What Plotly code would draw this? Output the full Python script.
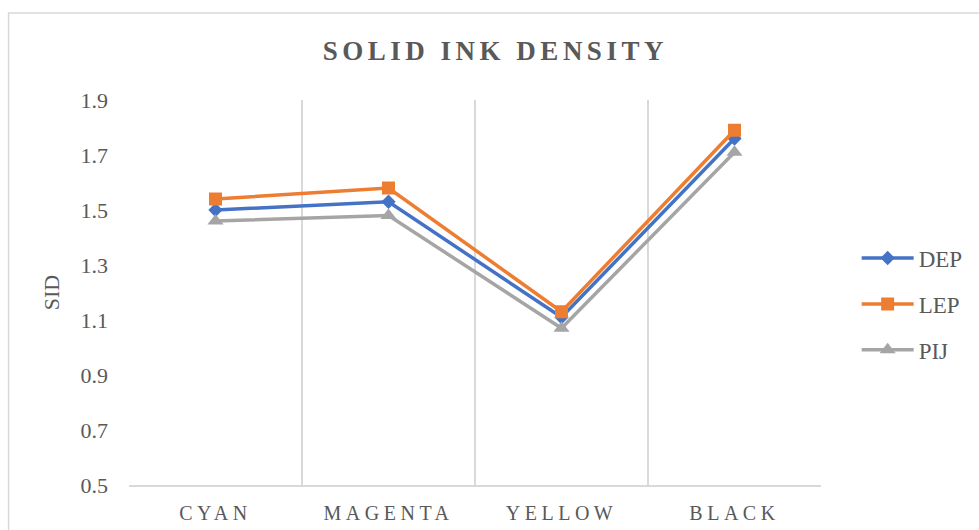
import plotly.graph_objects as go

categories = ["CYAN", "MAGENTA", "YELLOW", "BLACK"]
dep = [1.50, 1.53, 1.11, 1.76]
lep = [1.54, 1.58, 1.13, 1.79]
pij = [1.46, 1.48, 1.07, 1.71]
y_ticks = [0.5, 0.7, 0.9, 1.1, 1.3, 1.5, 1.7, 1.9]

FONT = "Liberation Serif, Times New Roman, serif"
GREY = "#595959"

fig = go.Figure()
series = [
    ("DEP", dep, "#4472C4", "diamond", 11),
    ("LEP", lep, "#ED7D31", "square", 13),
    ("PIJ", pij, "#A5A5A5", "triangle-up", 14),
]
for name, vals, col, sym, sz in series:
    fig.add_trace(go.Scatter(
        x=categories, y=vals, name=name, mode="lines+markers",
        legendgroup=name,
        line=dict(color=col, width=3.5),
        marker=dict(symbol=sym, size=sz, color=col),
    ))

fig.update_layout(
    width=979, height=530,
    margin=dict(l=129, r=157, t=100, b=45),
    paper_bgcolor="white", plot_bgcolor="white",
    title=dict(text="<b>SOLID INK DENSITY</b>", x=0.506, xanchor="center",
               y=0.905, yanchor="middle",
               font=dict(family=FONT, size=27, color=GREY)),
    font=dict(family=FONT, color=GREY),
    legend=dict(x=1.05, y=0.47, xanchor="left", yanchor="middle",
                font=dict(family=FONT, size=23, color=GREY),
                tracegroupgap=13, itemwidth=52),
    showlegend=True,
)
fig.update_xaxes(
    type="category", range=[-0.5, 3.5], tickson="boundaries",
    showgrid=True, gridcolor="#D9D9D9", gridwidth=1.5,
    showline=True, linecolor="#D9D9D9", linewidth=1.5,
    ticks="", ticklabelstandoff=9, automargin=False,
    tickfont=dict(family=FONT, size=20, color=GREY),
    zeroline=False,
)
fig.update_yaxes(
    range=[0.5, 1.9], tickvals=y_ticks, ticktext=[f"{v:.1f}" for v in y_ticks],
    showgrid=False, zeroline=False, showline=False, ticks="",
    ticklabelstandoff=20, automargin=False,
    tickfont=dict(family=FONT, size=22, color=GREY),
    title=dict(text="SID", font=dict(family=FONT, size=22, color=GREY), standoff=14),
)
fig.add_shape(type="rect", xref="paper", yref="paper",
              x0=-0.174, x1=1.35, y0=-0.3, y1=1.226,
              line=dict(color="#D9D9D9", width=1.5), fillcolor="rgba(0,0,0,0)", layer="below")

post = """
var s=document.createElement('style');
s.innerHTML='.gtitle{letter-spacing:4.5px;} .xtick text{letter-spacing:4.5px;}';
document.head.appendChild(s);
"""
fig.write_html("out.html", post_script=post)
